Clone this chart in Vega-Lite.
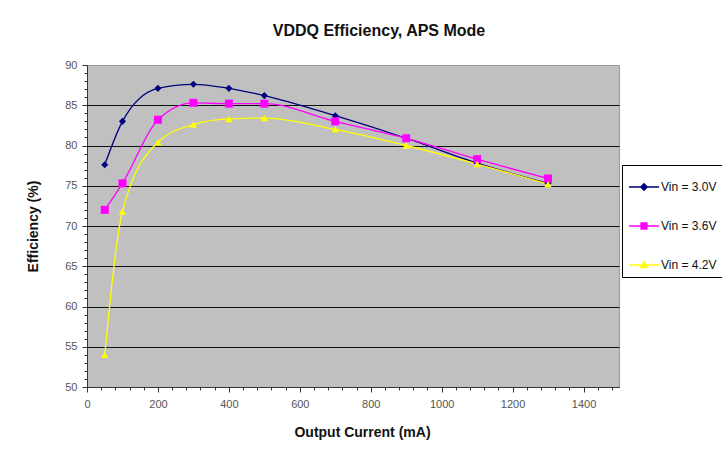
{
  "$schema": "https://vega.github.io/schema/vega-lite/v6.json",
  "autosize": "none",
  "width": 532,
  "height": 322,
  "padding": {"left": 87, "top": 65, "right": 103, "bottom": 70},
  "background": "white",
  "title": {
    "text": "VDDQ Efficiency, APS Mode",
    "font": "Liberation Sans",
    "fontSize": 16,
    "fontWeight": "bold",
    "color": "#111",
    "anchor": "middle",
    "dx": 26,
    "offset": 20
  },
  "data": {
    "values": [
      {"current": 50, "eff": 77.6, "series": "Vin = 3.0V"},
      {"current": 100, "eff": 83.0, "series": "Vin = 3.0V"},
      {"current": 200, "eff": 87.1, "series": "Vin = 3.0V"},
      {"current": 300, "eff": 87.6, "series": "Vin = 3.0V"},
      {"current": 400, "eff": 87.1, "series": "Vin = 3.0V"},
      {"current": 500, "eff": 86.2, "series": "Vin = 3.0V"},
      {"current": 700, "eff": 83.7, "series": "Vin = 3.0V"},
      {"current": 900, "eff": 80.9, "series": "Vin = 3.0V"},
      {"current": 1100, "eff": 77.8, "series": "Vin = 3.0V"},
      {"current": 1300, "eff": 75.3, "series": "Vin = 3.0V"},
      {"current": 50, "eff": 72.0, "series": "Vin = 3.6V"},
      {"current": 100, "eff": 75.3, "series": "Vin = 3.6V"},
      {"current": 200, "eff": 83.2, "series": "Vin = 3.6V"},
      {"current": 300, "eff": 85.3, "series": "Vin = 3.6V"},
      {"current": 400, "eff": 85.2, "series": "Vin = 3.6V"},
      {"current": 500, "eff": 85.2, "series": "Vin = 3.6V"},
      {"current": 700, "eff": 83.0, "series": "Vin = 3.6V"},
      {"current": 900, "eff": 80.9, "series": "Vin = 3.6V"},
      {"current": 1100, "eff": 78.3, "series": "Vin = 3.6V"},
      {"current": 1300, "eff": 75.9, "series": "Vin = 3.6V"},
      {"current": 50, "eff": 54.0, "series": "Vin = 4.2V"},
      {"current": 100, "eff": 71.8, "series": "Vin = 4.2V"},
      {"current": 200, "eff": 80.4, "series": "Vin = 4.2V"},
      {"current": 300, "eff": 82.6, "series": "Vin = 4.2V"},
      {"current": 400, "eff": 83.3, "series": "Vin = 4.2V"},
      {"current": 500, "eff": 83.4, "series": "Vin = 4.2V"},
      {"current": 700, "eff": 82.0, "series": "Vin = 4.2V"},
      {"current": 900, "eff": 80.0, "series": "Vin = 4.2V"},
      {"current": 1100, "eff": 77.7, "series": "Vin = 4.2V"},
      {"current": 1300, "eff": 75.2, "series": "Vin = 4.2V"}
    ]
  },
  "encoding": {
    "x": {
      "field": "current",
      "type": "quantitative",
      "scale": {"domain": [0, 1500], "nice": false, "zero": false},
      "axis": {
        "title": "Output Current (mA)",
        "titleFont": "Liberation Sans",
        "titleFontSize": 14,
        "titleFontWeight": "bold",
        "titleColor": "#111",
        "titlePadding": 16,
        "titleX": 275,
        "values": [0,40,80,120,160,200,240,280,320,360,400,440,480,520,560,600,640,680,720,760,800,840,880,920,960,1000,1040,1080,1120,1160,1200,1240,1280,1320,1360,1400,1440,1480],
        "labelExpr": "datum.value % 200 === 0 ? datum.label : ''",
        "format": "d",
        "labelFont": "Liberation Sans",
        "labelFontSize": 11,
        "labelColor": "#555",
        "labelPadding": 6,
        "tickSize": {"condition": {"test": "datum.value % 200 === 0", "value": 5}, "value": 3},
        "tickColor": "#333",
        "domainColor": "#333",
        "grid": false,
        "labelFlush": false,
        "labelOverlap": false
      }
    },
    "y": {
      "field": "eff",
      "type": "quantitative",
      "scale": {"domain": [50, 90], "nice": false, "zero": false},
      "axis": {
        "title": "Efficiency (%)",
        "titleFont": "Liberation Sans",
        "titleFontSize": 14,
        "titleFontWeight": "bold",
        "titleColor": "#111",
        "titlePadding": 24,
        "values": [50,51,52,53,54,55,56,57,58,59,60,61,62,63,64,65,66,67,68,69,70,71,72,73,74,75,76,77,78,79,80,81,82,83,84,85,86,87,88,89,90],
        "labelExpr": "datum.value % 5 === 0 ? datum.label : ''",
        "labelFont": "Liberation Sans",
        "labelFontSize": 11,
        "labelColor": "#555",
        "labelPadding": 5,
        "tickSize": {"condition": {"test": "datum.value % 5 === 0", "value": 5}, "value": 3},
        "tickColor": "#333",
        "domainColor": "#333",
        "grid": true,
        "gridColor": "#111",
        "gridWidth": 1,
        "gridOpacity": {"condition": {"test": "datum.value % 5 === 0 && datum.value > 50 && datum.value < 90", "value": 1}, "value": 0},
        "labelOverlap": false,
        "labelFlush": false
      }
    },
    "color": {
      "field": "series",
      "type": "nominal",
      "scale": {"domain": ["Vin = 3.0V", "Vin = 3.6V", "Vin = 4.2V"], "range": ["#000080", "#FF00FF", "#FFFF00"]}
    }
  },
  "layer": [
    {
      "mark": {"type": "line", "interpolate": "monotone", "strokeWidth": 1.3},
      "encoding": {
        "color": {
          "field": "series",
          "type": "nominal",
          "legend": {
            "orient": "none",
            "legendX": 535,
            "legendY": 100,
            "title": null,
            "strokeColor": "#000",
            "fillColor": "#fff",
            "padding": 6,
            "symbolSize": 900,
            "symbolType": "M-1,0H1",
            "rowPadding": 17,
            "labelFont": "Liberation Sans",
            "labelFontSize": 12,
            "labelColor": "#111",
            "labelOffset": 1,
            "symbolStrokeWidth": 1.3,
            "encode": {
              "symbols": {
                "update": {
                  "shape": {"signal": "datum.value === 'Vin = 3.0V' ? 'M-1,0H1M-0.22,0L0,-0.22L0.22,0L0,0.22Z' : datum.value === 'Vin = 3.6V' ? 'M-1,0H1M-0.2,-0.2H0.2V0.2H-0.2Z' : 'M-1,0H1M0,-0.22L0.22,0.17L-0.22,0.17Z'"},
                  "size": {"value": 900},
                  "fill": {"scale": "color", "field": "value"},
                  "stroke": {"scale": "color", "field": "value"},
                  "fillOpacity": {"value": 1},
                  "strokeOpacity": {"value": 1},
                  "strokeWidth": {"value": 1.3}
                }
              }
            }
          }
        }
      }
    },
    {
      "transform": [{"filter": "datum.series === 'Vin = 3.0V'"}],
      "mark": {"type": "point", "filled": true, "opacity": 1, "shape": "diamond", "size": 50},
      "encoding": {"color": {"field": "series", "type": "nominal", "legend": null}}
    },
    {
      "transform": [{"filter": "datum.series === 'Vin = 3.6V'"}],
      "mark": {"type": "point", "filled": true, "opacity": 1, "shape": "square", "size": 64},
      "encoding": {"color": {"field": "series", "type": "nominal", "legend": null}}
    },
    {
      "transform": [{"filter": "datum.series === 'Vin = 4.2V'"}],
      "mark": {"type": "point", "filled": true, "opacity": 1, "shape": "triangle-up", "size": 55},
      "encoding": {"color": {"field": "series", "type": "nominal", "legend": null}}
    }
  ],
  "config": {
    "view": {"fill": "#C0C0C0", "stroke": "#9a9a9a", "strokeWidth": 1}
  }
}
